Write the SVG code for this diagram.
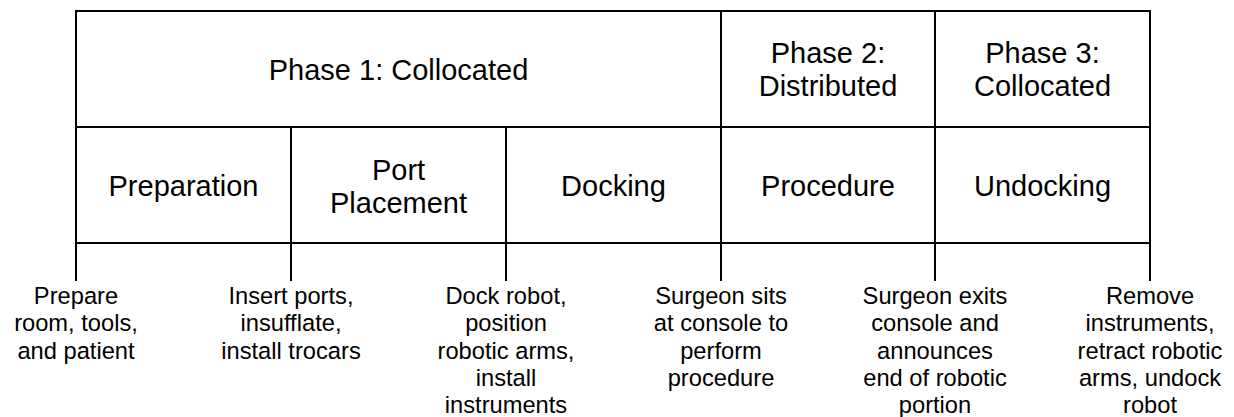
<svg xmlns="http://www.w3.org/2000/svg" width="1234" height="417" viewBox="0 0 1234 417">
<style>
.ln{stroke:#000;stroke-width:2;fill:none}
.hd{font-family:"Liberation Sans",Arial,sans-serif;font-size:29px;fill:#000;text-anchor:middle}
.lb{font-family:"Liberation Sans",Arial,sans-serif;font-size:23.7px;fill:#000;text-anchor:middle}
</style>
<rect width="1234" height="417" fill="#fff"/>
<g id="connectors">
<line class="ln" x1="76" y1="243" x2="76" y2="281"/>
<line class="ln" x1="291" y1="243" x2="291" y2="281"/>
<line class="ln" x1="506" y1="243" x2="506" y2="281"/>
<line class="ln" x1="721" y1="243" x2="721" y2="281"/>
<line class="ln" x1="935" y1="243" x2="935" y2="281"/>
<line class="ln" x1="1150" y1="243" x2="1150" y2="281"/>
</g>
<g id="phase1">
<rect class="ln" x="76" y="11" width="645" height="116"/>
<text class="hd" x="398.5" y="79.5">Phase 1: Collocated</text>
</g>
<g id="phase2">
<rect class="ln" x="721" y="11" width="214" height="116"/>
<text class="hd" x="828" y="62.5">Phase 2:</text>
<text class="hd" x="828" y="96">Distributed</text>
</g>
<g id="phase3">
<rect class="ln" x="935" y="11" width="215" height="116"/>
<text class="hd" x="1042.5" y="62.5">Phase 3:</text>
<text class="hd" x="1042.5" y="96">Collocated</text>
</g>
<g id="preparation">
<rect class="ln" x="76" y="127" width="215" height="116"/>
<text class="hd" x="183.5" y="196">Preparation</text>
</g>
<g id="port-placement">
<rect class="ln" x="291" y="127" width="215" height="116"/>
<text class="hd" x="398.5" y="179.5">Port</text>
<text class="hd" x="398.5" y="213">Placement</text>
</g>
<g id="docking">
<rect class="ln" x="506" y="127" width="215" height="116"/>
<text class="hd" x="613.5" y="196">Docking</text>
</g>
<g id="procedure">
<rect class="ln" x="721" y="127" width="214" height="116"/>
<text class="hd" x="828" y="196">Procedure</text>
</g>
<g id="undocking">
<rect class="ln" x="935" y="127" width="215" height="116"/>
<text class="hd" x="1042.5" y="196">Undocking</text>
</g>
<g id="label1">
<text class="lb" x="76" y="304">Prepare</text>
<text class="lb" x="76" y="331.3">room, tools,</text>
<text class="lb" x="76" y="358.6">and patient</text>
</g>
<g id="label2">
<text class="lb" x="291" y="304">Insert ports,</text>
<text class="lb" x="291" y="331.3">insufflate,</text>
<text class="lb" x="291" y="358.6">install trocars</text>
</g>
<g id="label3">
<text class="lb" x="506" y="304">Dock robot,</text>
<text class="lb" x="506" y="331.3">position</text>
<text class="lb" x="506" y="358.6">robotic arms,</text>
<text class="lb" x="506" y="385.9">install</text>
<text class="lb" x="506" y="413.2">instruments</text>
</g>
<g id="label4">
<text class="lb" x="721" y="304">Surgeon sits</text>
<text class="lb" x="721" y="331.3">at console to</text>
<text class="lb" x="721" y="358.6">perform</text>
<text class="lb" x="721" y="385.9">procedure</text>
</g>
<g id="label5">
<text class="lb" x="935" y="304">Surgeon exits</text>
<text class="lb" x="935" y="331.3">console and</text>
<text class="lb" x="935" y="358.6">announces</text>
<text class="lb" x="935" y="385.9">end of robotic</text>
<text class="lb" x="935" y="413.2">portion</text>
</g>
<g id="label6">
<text class="lb" x="1150" y="304">Remove</text>
<text class="lb" x="1150" y="331.3">instruments,</text>
<text class="lb" x="1150" y="358.6">retract robotic</text>
<text class="lb" x="1150" y="385.9">arms, undock</text>
<text class="lb" x="1150" y="413.2">robot</text>
</g>
</svg>
